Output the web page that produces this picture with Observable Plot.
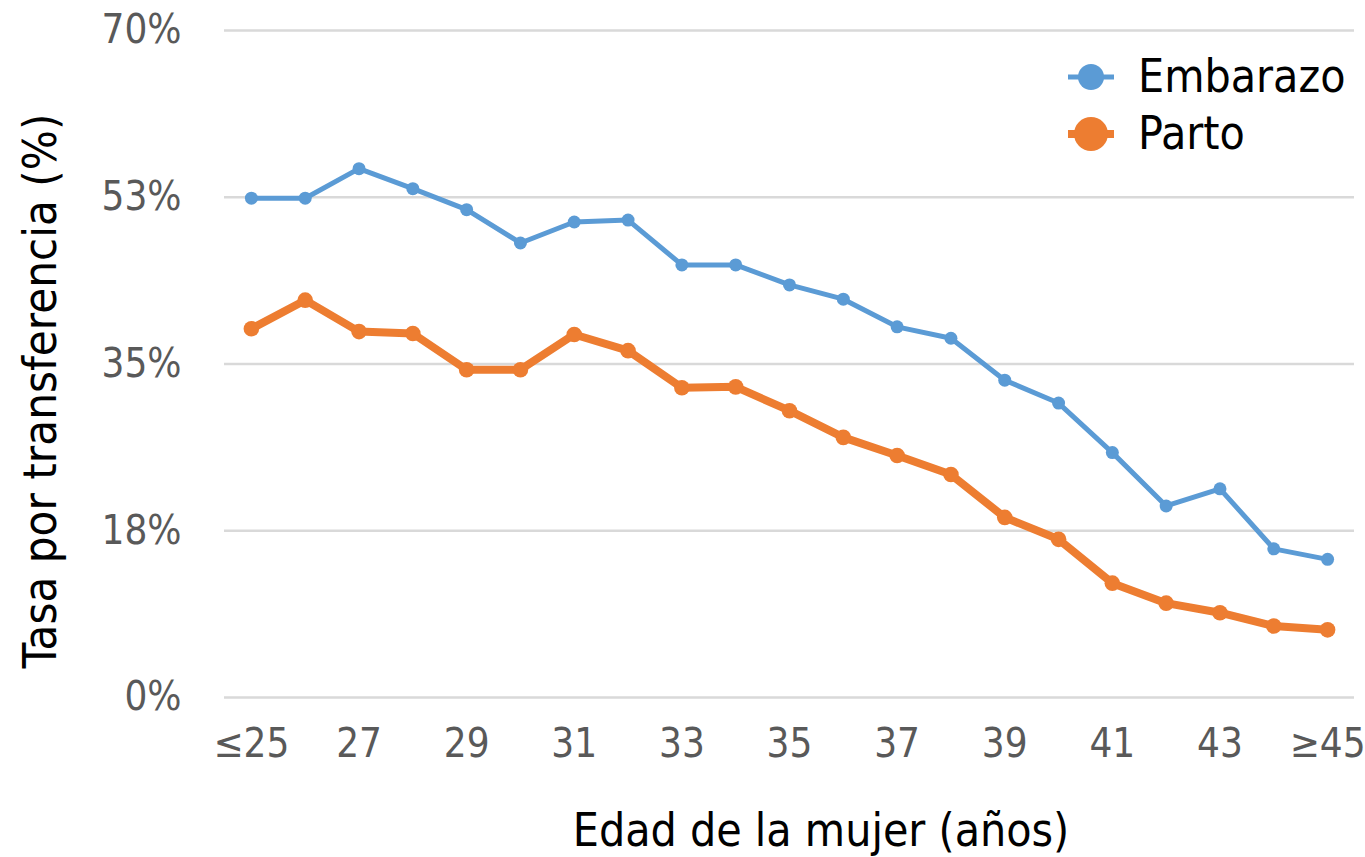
<!DOCTYPE html>
<html><head><meta charset="utf-8">
<script src="https://cdn.jsdelivr.net/npm/d3@7"></script>
<script src="https://cdn.jsdelivr.net/npm/@observablehq/plot@0.6"></script>
<style>
body{margin:0;background:#fff;}
#chart{position:relative;width:1365px;height:857px;font-family:"DejaVu Sans Condensed","DejaVu Sans",sans-serif;}
#legend{position:absolute;left:1060px;top:48px;font-size:46px;color:#000;line-height:57px;}
#legend .item{display:flex;align-items:center;height:57px;}
#legend svg{margin-right:22px;}
</style></head><body><div id="chart"><div id="legend"></div></div>
<script>
const ages = ["≤25","26","27","28","29","30","31","32","33","34","35","36","37","38","39","40","41","42","43","44","≥45"];
const embarazo = [52.4,52.4,55.5,53.4,51.2,47.7,49.9,50.1,45.4,45.4,43.3,41.8,38.9,37.7,33.3,30.9,25.7,20.1,21.9,15.6,14.5];
const parto = [38.7,41.7,38.4,38.2,34.4,34.4,38.1,36.4,32.5,32.6,30.1,27.3,25.4,23.4,18.9,16.6,12.0,9.9,8.9,7.5,7.1];
const seriesNames = ["Embarazo","Parto"];
const seriesColors = ["#5B9BD5","#ED7D31"];
const yTicks = [0,17.5,35,52.5,70];
const yTickLabels = ["0%","18%","35%","53%","70%"];
const xTickLabels = ages.filter((d,i)=>i%2===0);
const xTitle = "Edad de la mujer (años)";
const yTitle = "Tasa por transferencia (%)";

const font = '"DejaVu Sans Condensed","DejaVu Sans",sans-serif';
const rowsE = ages.map((a,i)=>({age:a,value:embarazo[i],series:seriesNames[0]}));
const rowsP = ages.map((a,i)=>({age:a,value:parto[i],series:seriesNames[1]}));

const plot = Plot.plot({
  width:1365, height:857,
  marginLeft:224, marginRight:11, marginTop:30, marginBottom:160,
  style:{fontFamily:font, background:"transparent"},
  x:{type:"point", domain:ages, padding:0.5, round:false},
  y:{domain:[0,70]},
  color:{domain:seriesNames, range:seriesColors},
  marks:[
    Plot.gridY(yTicks,{stroke:"#d9d9d9", strokeOpacity:1, strokeWidth:2.5}),
    Plot.axisY({ticks:yTicks, tickSize:0, tickPadding:43, fontSize:40, fill:"#595959",
      tickFormat:d=>yTickLabels[yTicks.indexOf(d)], label:null}),
    Plot.axisX({ticks:xTickLabels, tickSize:0, tickPadding:31, fontSize:40, fill:"#595959", label:null}),
    Plot.line(rowsE,{x:"age", y:"value", stroke:"series", strokeWidth:5}),
    Plot.dot(rowsE,{x:"age", y:"value", fill:"series", r:6.5}),
    Plot.line(rowsP,{x:"age", y:"value", stroke:"series", strokeWidth:8}),
    Plot.dot(rowsP,{x:"age", y:"value", fill:"series", r:7.8})
  ]
});
const chart = document.getElementById("chart");
chart.insertBefore(plot, chart.firstChild);
const svg = d3.select(plot);
svg.append("text").attr("x",821).attr("y",846).attr("text-anchor","middle")
  .attr("font-size",46).attr("fill","#000").text(xTitle);
svg.append("text").attr("transform","translate(56,391) rotate(-90)").attr("text-anchor","middle")
  .attr("font-size",47).attr("fill","#000").text(yTitle);

const legend = d3.select("#legend");
seriesNames.forEach((s,i)=>{
  const it = legend.append("div").attr("class","item");
  const m = it.append("svg").attr("width",56).attr("height",40);
  m.append("line").attr("x1",8).attr("x2",54).attr("y1",20).attr("y2",20)
    .attr("stroke",seriesColors[i]).attr("stroke-width",i===0?5:8);
  m.append("circle").attr("cx",31).attr("cy",20).attr("r",i===0?13:17).attr("fill",seriesColors[i]);
  it.append("span").text(s);
});
</script></body></html>
